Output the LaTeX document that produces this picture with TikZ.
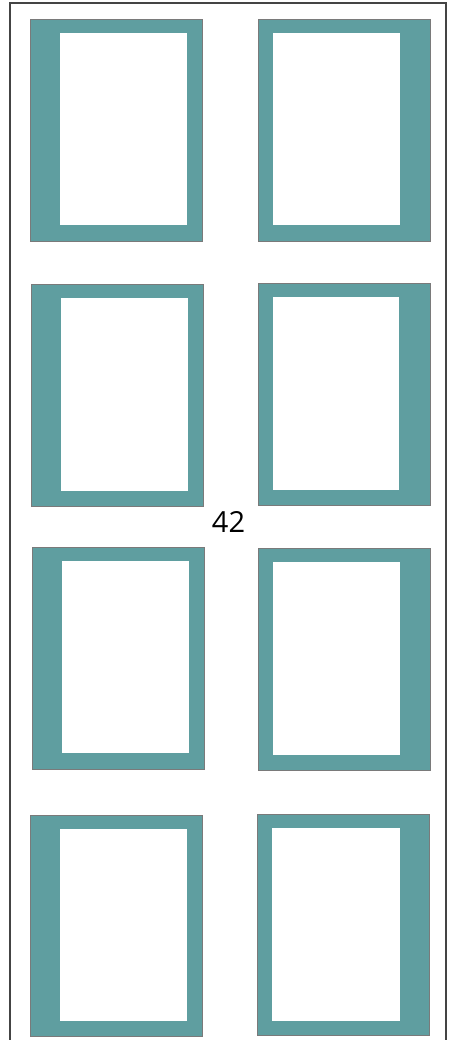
\documentclass[tikz,border=0pt]{standalone}
\usepackage{fontspec}
\setmainfont{Open Sans}
\definecolor{teal1}{HTML}{5F9EA0}
\definecolor{edge1}{HTML}{7A7A7A}
\definecolor{frameline}{HTML}{444444}
\begin{document}
\begin{tikzpicture}[x=1pt,y=-1pt,
  outerbox/.style={fill=teal1,draw=edge1,line width=0.7pt},
  innerbox/.style={fill=white,draw=none},
  label1/.style={font=\fontsize{29}{32}\selectfont,text=black,inner sep=0pt}]
\useasboundingbox (0,0) rectangle (452,1040);
\draw[frameline,line width=1.5pt] (10,1045) -- (10,3) -- (446,3) -- (446,1045);
% row 1
\draw[outerbox] (30,19) rectangle (202,241);
\fill[white] (60,33) rectangle (187,225);
\draw[outerbox] (258,19) rectangle (430,241);
\fill[white] (273,33) rectangle (400,225);
% row 2
\draw[outerbox] (31,284) rectangle (203,506);
\fill[white] (61,298) rectangle (188,491);
\draw[outerbox] (258,283) rectangle (430,505);
\fill[white] (273,297) rectangle (399,490);
% label
\node[label1] (n42) at (228.5,522) {42};
% row 3
\draw[outerbox] (32,547) rectangle (204,769);
\fill[white] (62,561) rectangle (189,753);
\draw[outerbox] (258,548) rectangle (430,770);
\fill[white] (273,562) rectangle (400,755);
% row 4
\draw[outerbox] (30,815) rectangle (202,1036);
\fill[white] (60,829) rectangle (187,1021);
\draw[outerbox] (257,814) rectangle (429,1035);
\fill[white] (272,828) rectangle (400,1021);
\end{tikzpicture}
\end{document}
